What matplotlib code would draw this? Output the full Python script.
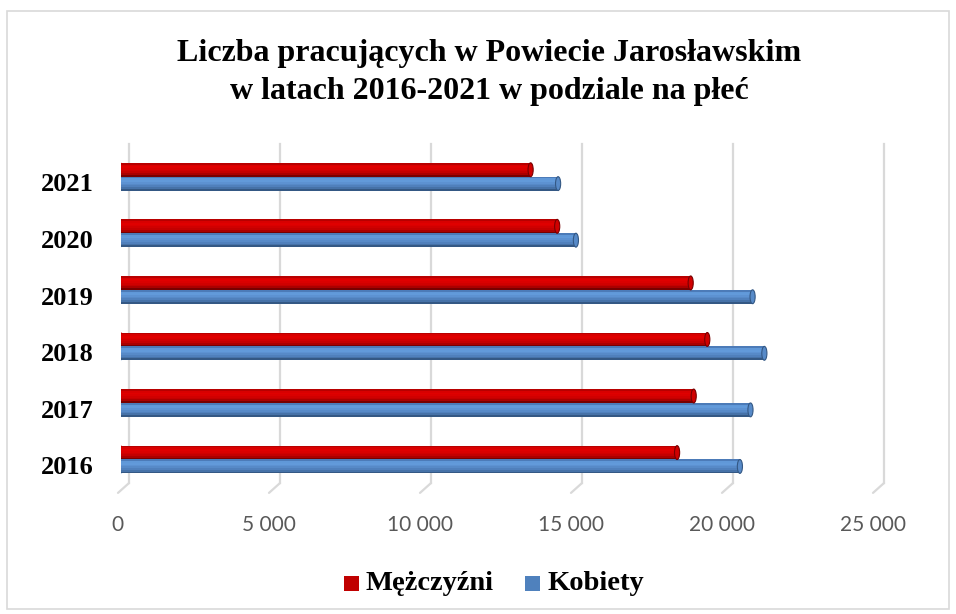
import matplotlib
matplotlib.use("Agg")
import matplotlib.pyplot as plt
import matplotlib.transforms as mtransforms
from matplotlib.patches import Rectangle, Ellipse
import numpy as np

# ---- data ----
years = ["2016", "2017", "2018", "2019", "2020", "2021"]
men = [18400, 18950, 19400, 18850, 14430, 13550]      # Mężczyźni
women = [20480, 20830, 21290, 20900, 15050, 14460]    # Kobiety
series_names = ["Mężczyźni", "Kobiety"]
xticks = [0, 5000, 10000, 15000, 20000, 25000]
xtick_labels = ["0", "5 000", "10 000", "15 000", "20 000", "25 000"]
title = "Liczba pracujących w Powiecie Jarosławskim\nw latach 2016-2021 w podziale na płeć"

W, H = 956, 614
fig = plt.figure(figsize=(W / 100, H / 100), dpi=100)
fig.patch.set_facecolor("white")

# border
fig.patches.append(Rectangle((7 / W, 1 - 609 / H), 942 / W, 598 / H, transform=fig.transFigure,
                             fill=False, edgecolor="#D9D9D9", linewidth=1.2))

ax = fig.add_axes([121.4 / W, 1 - 487.8 / H, 755 / W, 339.4 / H])
ax.set_xlim(0, 25000)
ax.set_ylim(-0.5, 5.5)
for s in ax.spines.values():
    s.set_visible(False)
ax.set_facecolor("none")

serif = ["Liberation Serif", "DejaVu Serif"]


def off(dx_px, dy_px):
    return mtransforms.ScaledTranslation(dx_px / 100, dy_px / 100, fig.dpi_scale_trans)


# gridlines (back wall + floor slant)
blend = mtransforms.blended_transform_factory(ax.transData, ax.transAxes)
for v in xticks:
    ax.plot([v, v], [1.012, 0.014], color="#D9D9D9", lw=1.6,
            transform=blend + off(7.6, 0), clip_on=False, zorder=0)
    ax.annotate("", xy=(v, -0.015), xycoords=blend + off(-3.4, 0),
                xytext=(v, 0.014), textcoords=blend + off(7.6, 0),
                arrowprops=dict(arrowstyle="-", color="#D9D9D9", lw=1.6,
                                shrinkA=0, shrinkB=0), annotation_clip=False)

# cylinder-like bars
y = np.arange(len(years))
bh = 0.245
dyo = 0.1225
red_grad = ["#B80000", "#D80000", "#E00000", "#DA0000", "#D00000", "#C40000", "#AA0000", "#780000"]
blue_grad = ["#4C7BB8", "#6098D8", "#629ADA", "#5D92D2", "#578AC8", "#5080BC", "#4672A8", "#345884"]
n = len(red_grad)
for vals, grad, dy in [(men, red_grad, dyo), (women, blue_grad, -dyo)]:
    for k, c in enumerate(grad):
        yk = y + dy + bh / 2 - (k + 0.5) * bh / n
        ax.barh(yk, vals, height=bh / n * 1.02, left=0, color=c, edgecolor="none", zorder=2)
    dark = grad[-1]
    for yi, v in zip(y + dy, vals):
        ax.add_patch(Ellipse((v, yi), width=170, height=bh, facecolor=grad[4],
                             edgecolor=dark, lw=0.8, zorder=3))
        ax.add_patch(Ellipse((0, yi), width=170, height=bh, facecolor=grad[2],
                             edgecolor="none", zorder=1.5))

# y tick labels (years)
ax.set_yticks(y)
ax.set_yticklabels(years, fontfamily=serif, fontweight="bold", fontsize=19, color="black")
ax.tick_params(axis="y", length=0, pad=20)
for lbl in ax.get_yticklabels():
    lbl.set_transform(lbl.get_transform() + off(0, -5.8))

# x tick labels
ax.set_xticks(xticks)
ax.set_xticklabels(xtick_labels, fontfamily=["Lato", "DejaVu Sans"], fontsize=15, color="#595959")
ax.tick_params(axis="x", length=0, pad=19.5)
for lbl in ax.get_xticklabels():
    lbl.set_transform(lbl.get_transform() + off(-3.5, 0))

# title
fig.text(489 / W, 1 - 72.5 / H, title, ha="center", va="center", fontfamily=serif,
         fontweight="bold", fontsize=23, linespacing=1.4)

# legend
red_c, blue_c = "#C00000", "#4F81BD"
for (x0, name, c, tx) in [(344, series_names[0], red_c, 366), (525, series_names[1], blue_c, 548)]:
    fig.patches.append(Rectangle((x0 / W, 1 - 591 / H), 15 / W, 15 / H, transform=fig.transFigure,
                                 facecolor=c, edgecolor="none"))
    fig.text(tx / W, 1 - 584 / H, name, ha="left", va="center", fontfamily=serif,
             fontweight="bold", fontsize=20.5)

fig.savefig("out.png", dpi=100)
